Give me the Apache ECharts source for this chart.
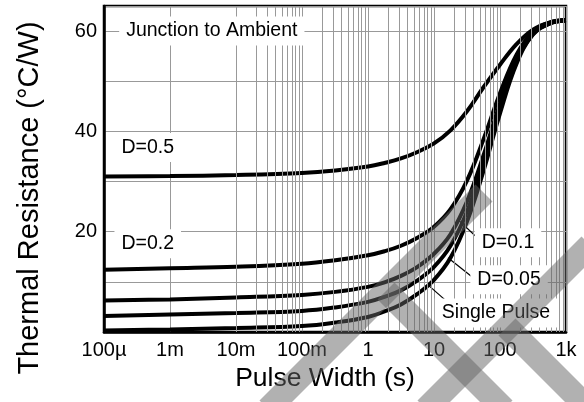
<!DOCTYPE html>
<html>
<head>
<meta charset="utf-8">
<script src="https://cdn.jsdelivr.net/npm/echarts@6/dist/echarts.min.js"></script>
<style>
html,body{margin:0;padding:0;background:#fff;}
#chart{width:584px;height:402px;}
</style>
</head>
<body>
<div id="chart"></div>
<script>
// ---- data ----
const pulseWidth = [1e-4, 1e-3, 1e-2, 0.1, 0.32, 1, 1.78, 3.16, 5.62, 10, 17.8, 31.6, 56.2, 100, 178, 316, 562, 1000];
const d05    = [31.0, 31.1, 31.3, 31.7, 32.2, 33.0, 33.7, 34.6, 35.9, 37.6, 40.2, 44.0, 48.8, 53.3, 57.4, 60.3, 61.7, 62.2];
const d02    = [12.4, 12.7, 13.0, 13.6, 14.3, 15.3, 16.1, 17.2, 18.8, 21.0, 24.5, 30.2, 38.4, 47.6, 55.3, 59.9, 61.7, 62.2];
const d01    = [6.3, 6.5, 6.9, 7.4, 8.0, 9.0, 9.9, 11.2, 13.0, 15.6, 19.5, 26.0, 35.2, 45.6, 54.4, 59.6, 61.6, 62.1];
const d005   = [3.2, 3.5, 3.8, 4.2, 4.9, 6.0, 7.0, 8.3, 10.3, 13.0, 17.2, 24.0, 33.6, 44.6, 53.9, 59.4, 61.5, 62.1];
const single = [0.3, 0.5, 0.8, 1.2, 1.9, 3.0, 4.1, 5.5, 7.6, 10.4, 14.8, 22.0, 32.1, 43.6, 53.5, 59.3, 61.5, 62.1];

const xTickLabels = ['100\u00b5', '1m', '10m', '100m', '1', '10', '100', '1k'];
const decades = [1e-4, 1e-3, 1e-2, 1e-1, 1, 10, 100];
const minorMultipliers = [2, 3, 4, 5, 6, 7, 8, 9];
const yTickLabels = [20, 40, 60];

// annotation labels
const labelTexts = ['Junction to Ambient', 'D=0.5', 'D=0.2', 'D=0.1', 'D=0.05', 'Single Pulse'];
const labelX = [0.0043, 4.6e-4, 4.6e-4, 132, 137, 87];
const labelY = [60, 36.8, 17.6, 17.8, 10.4, 3.8];
// leader lines: from (x1,y1) to (x2,y2)
const leaderFromX = [42, 37.5, 14.7];
const leaderFromY = [19.2, 11.0, 6.4];
const leaderToX = [24, 16.3, 8.1];
const leaderToY = [22.2, 14.8, 9.4];

const FONT = 'Liberation Sans, Arial, Helvetica, sans-serif';

const minorGrid = [];
decades.forEach(d => minorMultipliers.forEach(m => minorGrid.push({ xAxis: d * m })));

function pairs(ys) { return pulseWidth.map((x, i) => [x, ys[i]]); }

function curve(name, ys) {
  return {
    name, type: 'line', data: pairs(ys), showSymbol: false, symbol: 'none',
    smooth: 0.4, lineStyle: { color: '#000', width: 4 }, z: 3, silent: true
  };
}

const chart = echarts.init(document.getElementById('chart'), null, { renderer: 'canvas' });

// decorative watermark stripes (not data)
const stripe = 'rgba(100,100,100,0.5)';
function band(p1, p2) {
  return { type: 'polyline', silent: true, z: 100, shape: { points: [p1, p2] }, style: { stroke: stripe, lineWidth: 24, fill: null, lineCap: 'butt' } };
}

const option = {
  animation: false,
  backgroundColor: '#fff',
  grid: { left: 104, right: 18, top: 6, bottom: 70, show: true, borderColor: '#000', borderWidth: 2.5, backgroundColor: 'transparent' },
  xAxis: {
    type: 'log', logBase: 10, min: 1e-4, max: 1e3, splitNumber: 7,
    name: 'Pulse Width (s)', nameLocation: 'middle', nameGap: 29,
    nameTextStyle: { fontSize: 26.5, color: '#000', fontFamily: FONT, padding: [0, 20, 0, 0] },
    axisLine: { show: true, lineStyle: { color: '#000', width: 2.5 } },
    axisTick: { show: false },
    axisLabel: {
      margin: 8, fontSize: 20, color: '#000', fontFamily: FONT,
      formatter: v => { const i = Math.round(Math.log10(v)) + 4; return xTickLabels[i] !== undefined ? xTickLabels[i] : ''; }
    },
    splitLine: { show: true, lineStyle: { color: '#999', width: 1 } }
  },
  yAxis: {
    type: 'value', min: 0, max: 65, interval: 10,
    name: 'Thermal Resistance (\u00b0C/W)', nameLocation: 'middle', nameGap: 60,
    nameTextStyle: { fontSize: 29, color: '#000', fontFamily: FONT, padding: [0, 58, 0, 0] },
    axisLine: { show: true, lineStyle: { color: '#000', width: 2.5 } },
    axisTick: { show: false },
    axisLabel: {
      margin: 7, fontSize: 20, color: '#000', fontFamily: FONT,
      formatter: v => yTickLabels.includes(v) ? String(v) : ''
    },
    splitLine: { show: true, lineStyle: { color: '#999', width: 1 } }
  },
  series: [
    {
      name: 'minor-grid', type: 'line', data: [], z: 1, silent: true,
      markLine: {
        silent: true, symbol: ['none', 'none'], animation: false,
        label: { show: false },
        lineStyle: { color: '#999', width: 1, type: 'solid' },
        emphasis: { disabled: true },
        data: minorGrid
      }
    },
    curve('D=0.5', d05),
    curve('D=0.2', d02),
    curve('D=0.1', d01),
    curve('D=0.05', d005),
    Object.assign(curve('Single Pulse', single), {
      markLine: {
        silent: true, symbol: ['none', 'none'], animation: false, z: 4,
        label: { show: false },
        lineStyle: { color: '#000', width: 1.2, type: 'solid' },
        emphasis: { disabled: true },
        data: leaderFromX.map((x, i) => [{ coord: [x, leaderFromY[i]] }, { coord: [leaderToX[i], leaderToY[i]] }])
      },
      markPoint: {
        silent: true, symbol: 'rect', symbolSize: 0, animation: false, z: 5,
        label: {
          show: true, position: 'inside', color: '#000', fontSize: 19.5, fontFamily: FONT,
          backgroundColor: '#fff', padding: [5, 7, 4, 7],
          formatter: p => p.name
        },
        emphasis: { disabled: true },
        data: labelTexts.map((t, i) => ({ name: t, coord: [labelX[i], labelY[i]] }))
      }
    })
  ],
  graphic: {
    elements: [
      band([484, 193], [268, 409]),
      band([386, 291], [504, 409]),
      band([590, 245], [426, 409]),
      band([507, 327], [590, 410])
    ]
  }
};
chart.setOption(option);
</script>
</body>
</html>
